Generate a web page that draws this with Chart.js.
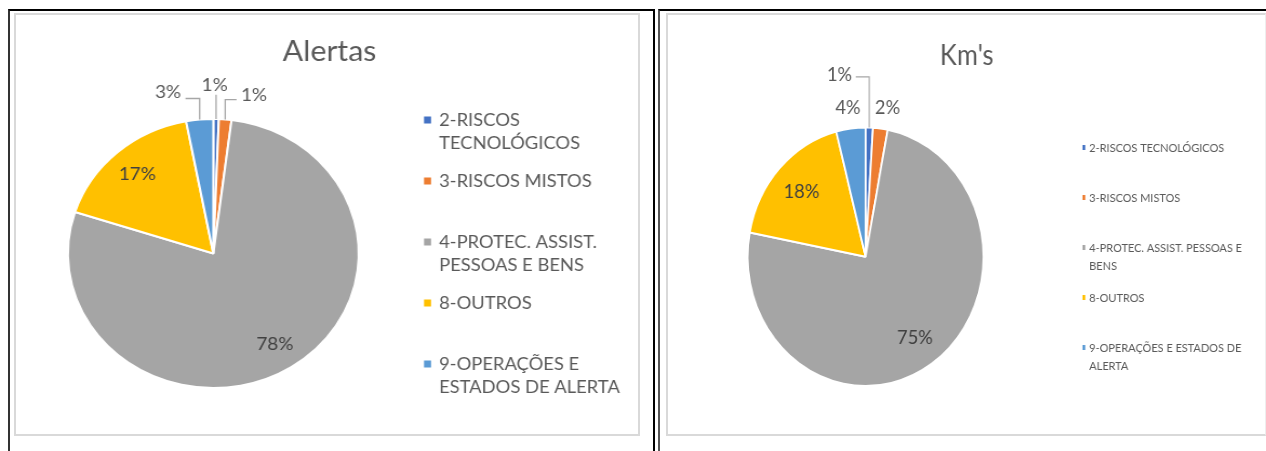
<!DOCTYPE html>
<html><head><meta charset="utf-8">
<script src="https://cdn.jsdelivr.net/npm/chart.js@4.4.1/dist/chart.umd.min.js"></script>
<style>
html,body{margin:0;padding:0;background:#fff;width:1266px;height:451px;overflow:hidden;position:relative;font-family:Lato,sans-serif}
.abs{position:absolute;box-sizing:border-box}
canvas{position:absolute;transform-origin:0 0}
</style></head><body>
<div class="abs" style="left:8px;top:9px;width:647px;height:460px;border-top:2px solid #000;border-left:2px solid #333;border-right:2px solid #000"></div>
<div class="abs" style="left:658px;top:9px;width:620px;height:460px;border-top:2px solid #000;border-left:2px solid #555"></div>
<div class="abs" style="left:14px;top:13px;width:626px;height:423px;border:2px solid #d9d9d9"></div>
<div class="abs" style="left:666px;top:13px;width:600px;height:423px;border:2px solid #d9d9d9;border-right:1px solid #eee"></div>
<canvas id="c1" width="579" height="423" style="left:14px;top:13px;transform:scale(1.081,1)"></canvas>
<canvas id="c2" width="658" height="423" style="left:666px;top:13px;transform:scale(0.912,1)"></canvas>
<script>
const categories = ['2-RISCOS TECNOLÓGICOS', '3-RISCOS MISTOS', '4-PROTEC. ASSIST. PESSOAS E BENS', '8-OUTROS', '9-OPERAÇÕES E ESTADOS DE ALERTA'];
const alertasValues = [0.6, 1.4, 78, 17, 3];
const kmsValues = [1, 2, 75, 18, 4];
const sliceColors = ['#4472C4', '#ED7D31', '#A5A5A5', '#FFC000', '#5B9BD5'];
const chartTitles = ['Alertas', "Km's"];

const decoConfigs = {
  c1: {
    title: chartTitles[0], titleSize: 28, titleX: 291.9, titleY: 48,
    labelSize: 17.5, insideFactor: 0.79,
    outside: [{dist: 1.253, dx: -2, leader: true}, {dist: 1.182, dx: 24.6, leader: true, ldy: 4.5}, null, null, {dist: 1.206, dx: -26.6, leader: true, ldy: 6.5}],
    legendSize: 17, legendX: 393.2, markerX: 379.3, markerW: 6.5, markerH: 7, legendY: 107, legendStep: 61, lineStep: 23.3, legendMaxW: 190
  },
  c2: {
    title: chartTitles[1], titleSize: 28, titleX: 329.8, titleY: 52,
    labelSize: 20, insideFactor: 0.745,
    outside: [{dist: 1.414, dx: -34.3, leader: true, ldy: 3}, {dist: 1.167, dx: 5.2}, null, null, {dist: 1.167, dx: -0.3}],
    legendSize: 12, legendX: 464.1, markerX: 456.7, markerW: 3, markerH: 5, legendY: 134.5, legendStep: 50, lineStep: 18, legendMaxW: 175
  }
};

function wrapText(ctx, text, maxW) {
  const words = text.split(' ');
  const lines = [];
  let cur = '';
  words.forEach(w => {
    const t = cur ? cur + ' ' + w : w;
    if (cur && ctx.measureText(t).width > maxW) { lines.push(cur); cur = w; }
    else cur = t;
  });
  if (cur) lines.push(cur);
  return lines;
}

const pieDeco = {
  id: 'pieDeco',
  afterDatasetsDraw(chart) {
    const o = decoConfigs[chart.canvas.id];
    const ctx = chart.ctx;
    const ds = chart.data.datasets[0];
    const data = ds.data;
    const total = data.reduce((a, b) => a + b, 0);
    const meta = chart.getDatasetMeta(0);
    ctx.save();
    ctx.textBaseline = 'alphabetic';
    // title
    ctx.font = o.titleSize + 'px Lato';
    ctx.fillStyle = '#595959';
    ctx.textAlign = 'center';
    ctx.fillText(o.title, o.titleX, o.titleY);
    // data labels
    ctx.font = o.labelSize + 'px Lato';
    const capOff = o.labelSize * 0.36;
    meta.data.forEach((arc, i) => {
      const p = arc.getProps(['x', 'y', 'startAngle', 'endAngle', 'outerRadius'], true);
      const mid = (p.startAngle + p.endAngle) / 2;
      const cos = Math.cos(mid), sin = Math.sin(mid);
      const txt = Math.round(data[i] / total * 100) + '%';
      const pl = o.outside[i];
      if (!pl) {
        const d = p.outerRadius * o.insideFactor;
        ctx.fillStyle = '#404040';
        ctx.fillText(txt, p.x + d * cos, p.y + d * sin + capOff);
      } else {
        const d = p.outerRadius * pl.dist;
        const lx = p.x + d * cos + pl.dx, ly = p.y + d * sin;
        ctx.fillStyle = '#595959';
        ctx.fillText(txt, lx, ly + capOff);
        if (pl.leader) {
          const w = ctx.measureText(txt).width;
          const sx = p.x + p.outerRadius * cos, sy = p.y + p.outerRadius * sin;
          ctx.strokeStyle = '#a6a6a6';
          ctx.lineWidth = 1.3;
          ctx.beginPath();
          ctx.moveTo(sx, sy);
          if (Math.abs(lx - sx) < w / 2) {
            ctx.lineTo(sx, ly + o.labelSize * 0.55);
          } else {
            const ey = ly + pl.ldy;
            ctx.lineTo(sx, ey);
            ctx.lineTo(lx > sx ? lx - w / 2 - 4 : lx + w / 2 + 4, ey);
          }
          ctx.stroke();
        }
      }
    });
    // legend
    ctx.font = o.legendSize + 'px Lato';
    ctx.textAlign = 'left';
    const lcap = o.legendSize * 0.36;
    chart.data.labels.forEach((lab, i) => {
      const y = o.legendY + i * o.legendStep;
      ctx.fillStyle = ds.backgroundColor[i];
      ctx.fillRect(o.markerX, y - o.markerH / 2, o.markerW, o.markerH);
      ctx.fillStyle = '#595959';
      wrapText(ctx, lab, o.legendMaxW).forEach((line, j) => {
        ctx.fillText(line, o.legendX, y + j * o.lineStep + lcap);
      });
    });
    ctx.restore();
  }
};

function makeChart(id, values, radius, padding) {
  return new Chart(document.getElementById(id), {
    type: 'pie',
    data: {
      labels: categories,
      datasets: [{data: values, backgroundColor: sliceColors, borderColor: '#ffffff', borderWidth: 2}]
    },
    options: {
      responsive: false,
      animation: false,
      radius: radius,
      layout: {padding: padding},
      plugins: {legend: {display: false}, tooltip: {enabled: false}, title: {display: false}}
    },
    plugins: [pieDeco]
  });
}

makeChart('c1', alertasValues, 134.5, {left: 44.4, right: 254.6, top: 100.5, bottom: 42.5});
makeChart('c2', kmsValues, 129.3, {left: 78.8, right: 299.2, top: 103.7, bottom: 39.3});
</script>
</body></html>
